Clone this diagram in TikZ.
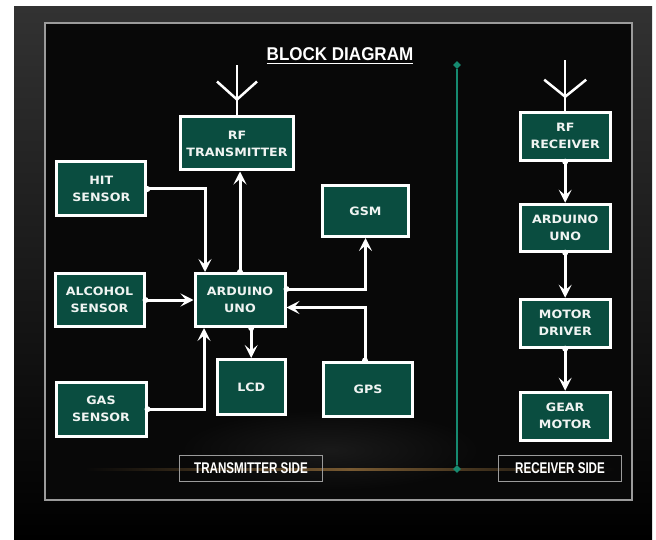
\documentclass[tikz,border=0pt]{standalone}
\usepackage{fontspec}
\usepackage{xcolor}
\usetikzlibrary{positioning}
\usetikzlibrary{arrows.meta}
\usetikzlibrary{shapes.geometric}
\usetikzlibrary{decorations.markings}
\newfontfamily\boxfont[FakeStretch=1.1]{DejaVu Sans}
\newfontfamily\titlefont[FakeStretch=0.92]{Liberation Sans}
\newfontfamily\sidefont[FakeStretch=0.75]{Liberation Sans}
\definecolor{boxgreen}{RGB}{10,77,64}
\definecolor{divider}{RGB}{22,138,112}
\definecolor{framegray}{RGB}{155,155,155}
\definecolor{slidegray}{RGB}{50,50,50}
\definecolor{slideblack}{RGB}{8,8,8}
\definecolor{glow}{RGB}{120,90,50}
\definecolor{boxtext}{RGB}{240,244,242}
\tikzset{
  unit/.style={
    draw=white, line width=3pt, fill=boxgreen, text=boxtext,
    font=\boxfont\bfseries\fontsize{11.5}{17}\selectfont,
    align=center, inner sep=0pt,
  },
  link/.style={
    draw=white, line width=3pt,
    -{Stealth[length=13pt, width=13pt, inset=5.5pt]},
  },
  dot edge/.style={
    decoration={
      markings,
      mark=at position 0 with {\fill[white] circle (3pt);},
    },
    postaction={decorate},
  },
  side label/.style={
    draw=framegray, line width=1pt, text=white,
    font=\sidefont\bfseries\fontsize{15.5}{18}\selectfont,
    inner sep=0pt, minimum height=26pt,
  },
}

\begin{document}
\begin{tikzpicture}[x=1pt, y=-1pt]

  % Background
  \useasboundingbox (0,0) rectangle (656,540);
  \fill[white] (0,0) rectangle (656,540);
  \shade[top color=slidegray, bottom color=black] (14,7) rectangle (652,540);
  \draw[framegray, line width=1.5pt, fill=slideblack] (45,23) rectangle (632,500);
  \shade[inner color=black!90!white, outer color=slideblack] (330,450) ellipse (150 and 40);
  \shade[left color=slideblack, right color=slideblack, middle color=glow] (85,468) rectangle (615,470.5);

  % Title
  \node[text=white, font=\titlefont\bfseries\fontsize{18.5}{20}\selectfont, inner xsep=0pt, anchor=base] (title) at (340,61) {BLOCK DIAGRAM};
  \draw[white, line width=1.3pt] ([yshift=-2.5pt]title.base west) -- ([yshift=-2.5pt]title.base east);

  % Divider
  \node[diamond, fill=divider, inner sep=0pt, minimum size=8pt] (divtop) at (457,65) {};
  \node[diamond, fill=divider, inner sep=0pt, minimum size=8pt] (divbot) at (457,469) {};
  \draw[divider, line width=2pt] (divtop) -- (divbot);

  % Transmitter nodes
  \node[unit, minimum width=113pt, minimum height=53pt] (rftx) at (237,143.5) {RF\\TRANSMITTER};
  \node[unit, minimum width=89pt, minimum height=54pt] (hit) at (101.3,189) {HIT\\SENSOR};
  \node[unit, minimum width=86pt, minimum height=51pt] (gsm) at (365.5,211) {GSM};
  \node[unit, minimum width=89pt, minimum height=53pt] (alcohol) at (99.5,300) {ALCOHOL\\SENSOR};
  \node[unit, minimum width=90pt, minimum height=53pt] (ardtx) at (240,300) {ARDUINO\\UNO};
  \node[unit, minimum width=68pt, minimum height=55pt] (lcd) at (251.2,387) {LCD};
  \node[unit, minimum width=89pt, minimum height=54pt] (gps) at (368,389) {GPS};
  \node[unit, minimum width=90pt, minimum height=54pt] (gas) at (101,409.2) {GAS\\SENSOR};

  % Receiver nodes
  \node[unit, minimum width=90pt, minimum height=48pt] (rfrx) at (565.2,136.2) {RF\\RECEIVER};
  \node[unit, minimum width=90pt, minimum height=47pt, below=41pt of rfrx] (ardrx) {ARDUINO\\UNO};
  \node[unit, minimum width=90pt, minimum height=48pt, below=45pt of ardrx] (motor) {MOTOR\\DRIVER};
  \node[unit, minimum width=90pt, minimum height=48pt, below=42pt of motor] (gear) {GEAR\\MOTOR};

  % Side labels
  \node[side label, minimum width=143pt] (txside) at (251,468.5) {TRANSMITTER SIDE};
  \node[side label, minimum width=123pt] (rxside) at (560,468) {RECEIVER SIDE};

  % Antennas
  \coordinate (txtop) at ([yshift=50pt]rftx.north);
  \coordinate (txfork) at ([yshift=16pt]rftx.north);
  \draw[white, line width=2.5pt] (rftx.north) -- (txtop);
  \draw[white, line width=2.5pt] ([xshift=-20pt, yshift=34pt]rftx.north) -- (txfork) -- ([xshift=20pt, yshift=34pt]rftx.north);

  \coordinate (rxtop) at ([yshift=51pt]rfrx.north);
  \coordinate (rxfork) at ([yshift=14pt]rfrx.north);
  \draw[white, line width=2.5pt] (rfrx.north) -- (rxtop);
  \draw[white, line width=2.5pt] ([xshift=-21pt, yshift=31pt]rfrx.north) -- (rxfork) -- ([xshift=21pt, yshift=31pt]rfrx.north);

  % Connect nodes
  \draw[link, dot edge] (hit.east) -| ([xshift=-35pt]ardtx.north);
  \draw[link, dot edge] (alcohol.east) -- (ardtx.west);
  \draw[link, dot edge] (gas.east) -| ([xshift=-36pt]ardtx.south);
  \draw[link, dot edge] (ardtx.north) -- (ardtx.north |- rftx.south);
  \draw[link, dot edge] ([yshift=11pt]ardtx.east) -| (gsm.south);
  \draw[link, dot edge] ([xshift=-3pt]gps.north) |- ([yshift=-7.5pt]ardtx.east);
  \draw[link, dot edge] (ardtx.south -| lcd.north) -- (lcd.north);

  \draw[link, dot edge] (rfrx.south) -- (ardrx.north);
  \draw[link, dot edge] (ardrx.south) -- (motor.north);
  \draw[link, dot edge] (motor.south) -- (gear.north);

\end{tikzpicture}
\end{document}
